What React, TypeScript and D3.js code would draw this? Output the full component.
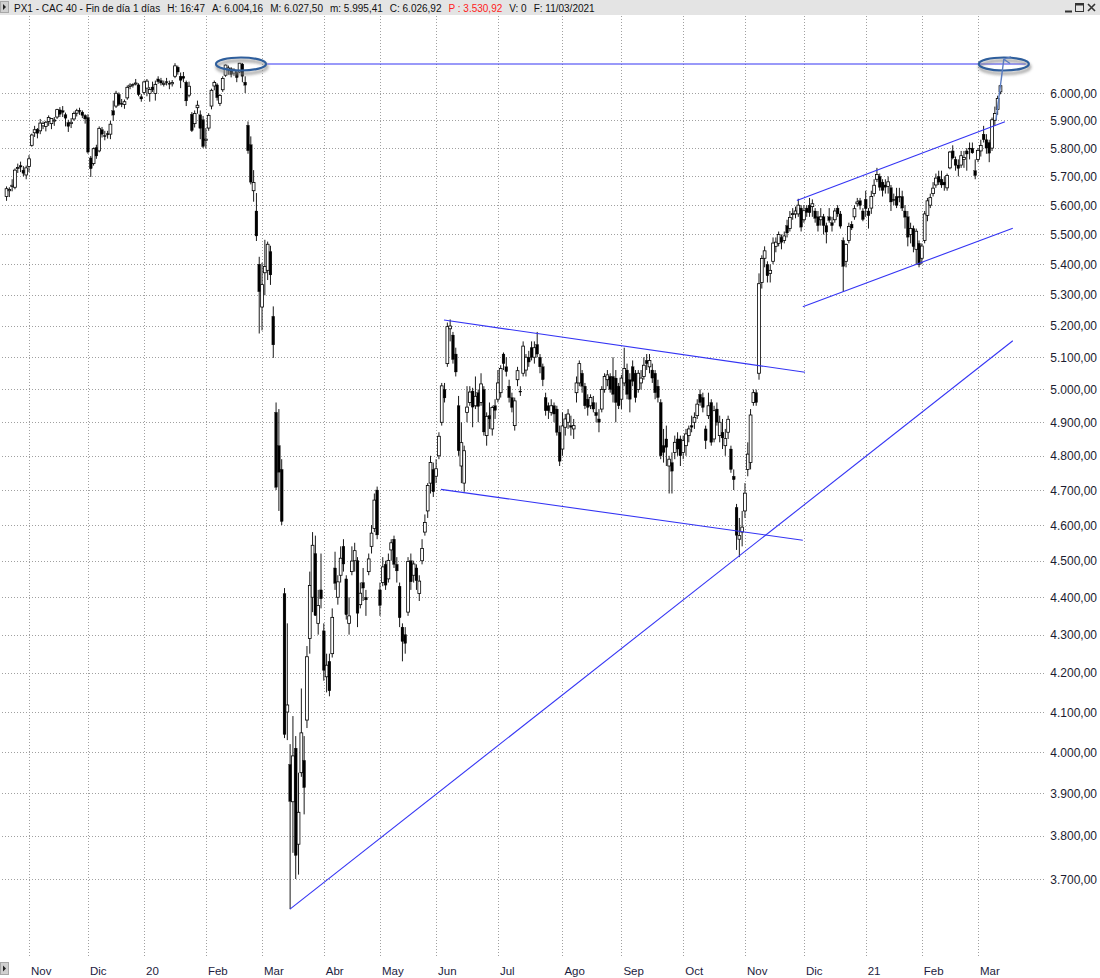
import React from "react";
import * as d3 from "d3";

type Bar = [number, number, number, number]; // open, high, low, close

const oct19: Bar[] = [
  [5630,5665,5615,5657],[5650,5662,5628,5654],[5665,5690,5648,5669],[5662,5728,5655,5722],
  [5728,5745,5712,5731],[5738,5752,5715,5733],[5722,5736,5700,5711],[5705,5738,5690,5730],
];
const nov19: Bar[] = [
  [5735,5775,5715,5762],[5810,5852,5805,5847],[5855,5880,5840,5866],[5868,5872,5835,5853],
  [5862,5905,5850,5890],[5880,5896,5868,5889],[5878,5898,5860,5893],[5896,5918,5880,5910],
  [5888,5908,5868,5907],[5898,5912,5880,5901],[5912,5942,5905,5939],[5938,5948,5912,5922],
  [5935,5952,5912,5929],[5920,5928,5878,5908],[5892,5902,5858,5878],[5888,5908,5872,5893],
  [5905,5932,5898,5925],[5926,5942,5914,5935],[5936,5946,5920,5933],[5930,5936,5908,5918],
  [5918,5922,5888,5905],
];
const dec19: Bar[] = [
  [5910,5922,5780,5786],[5765,5772,5698,5727],[5745,5802,5738,5798],[5802,5812,5762,5772],
  [5790,5878,5785,5871],[5866,5876,5838,5850],[5845,5862,5828,5844],[5852,5862,5834,5848],
  [5850,5898,5832,5886],[5935,5972,5898,5919],[5952,6008,5945,5999],[5995,6002,5952,5958],
  [5962,5978,5948,5960],[5958,5976,5942,5968],[5982,6028,5975,6021],[6024,6036,6014,6029],
  [6032,6036,6020,6031],[6036,6052,6028,6037],[6030,6036,5988,5994],[5986,5996,5968,5978],
];
const jan20: Bar[] = [
  [6002,6046,5994,6041],[6018,6052,5988,6044],[5998,6022,5968,6013],[6022,6042,6004,6012],
  [5998,6046,5972,6032],[6052,6062,6034,6042],[6046,6056,6028,6037],[6032,6046,6024,6036],
  [6042,6056,6028,6040],[6036,6046,6014,6033],[6034,6048,6024,6039],[6062,6111,6055,6101],
  [6096,6102,6068,6078],[6062,6076,6018,6047],[6062,6078,6040,6054],[6040,6046,5952,5971],
  [5992,6042,5984,6025],[5922,5930,5858,5863],[5888,5936,5874,5925],[5946,5972,5924,5955],
  [5920,5936,5832,5871],[5902,5916,5800,5806],
];
const feb20: Bar[] = [
  [5828,5872,5798,5832],[5872,5926,5862,5918],[5952,6016,5940,6010],[6026,6046,6010,6039],
  [6030,6036,5972,5983],[5962,5996,5952,5991],[6012,6062,6004,6054],[6066,6106,6060,6104],
  [6086,6102,6068,6093],[6090,6096,6058,6069],[6074,6092,6064,6085],[6076,6082,6040,6057],
  [6078,6112,6074,6111],[6108,6112,6040,6062],[6040,6062,6000,6029],[5882,5896,5780,5791],
  [5812,5842,5672,5680],[5650,5722,5612,5679],[5580,5642,5478,5495],[5400,5425,5175,5310],
];
const mar20: Bar[] = [
  [5260,5405,5185,5333],[5372,5482,5298,5393],[5380,5476,5348,5467],[5442,5462,5332,5365],
  [5230,5262,5098,5139],[4930,4960,4700,4708],[4830,4940,4640,4752],[4760,4790,4600,4610],
  [4410,4425,4035,4044],[4100,4330,4030,4118],[3970,4020,3632,3881],[3880,4090,3760,3991],
  [4010,4040,3700,3754],[3780,3950,3710,3855],[3950,4160,3940,4048],[3980,4040,3850,3914],
  [4080,4270,4060,4242],[4290,4470,4250,4432],[4400,4580,4360,4543],[4520,4570,4350,4351],
  [4330,4420,4300,4378],[4420,4520,4370,4396],
];
const apr20: Bar[] = [
  [4310,4330,4180,4207],[4190,4250,4150,4220],[4230,4250,4140,4154],[4250,4370,4240,4346],
  [4480,4525,4420,4438],[4400,4460,4380,4442],[4460,4540,4440,4507],[4540,4560,4470,4491],
  [4450,4460,4340,4353],[4330,4400,4300,4350],[4470,4540,4460,4499],[4500,4550,4470,4528],
  [4500,4510,4320,4357],[4380,4440,4370,4411],[4440,4480,4390,4425],[4400,4420,4350,4393],
  [4470,4520,4460,4505],[4540,4600,4520,4577],[4590,4690,4580,4671],[4700,4710,4560,4572],
];
const may20: Bar[] = [
  [4420,4440,4350,4378],[4440,4510,4430,4483],[4490,4500,4420,4433],[4450,4520,4440,4501],
  [4530,4560,4500,4550],[4560,4570,4480,4490],[4490,4510,4440,4472],[4430,4440,4320,4345],
  [4320,4330,4230,4282],[4300,4320,4250,4277],[4360,4510,4350,4498],[4500,4520,4420,4442],
  [4460,4500,4440,4491],[4480,4490,4420,4445],[4410,4460,4390,4444],[4500,4560,4490,4534],
  [4580,4630,4570,4607],[4640,4720,4620,4713],[4720,4800,4690,4780],[4760,4780,4680,4695],
];
const jun20: Bar[] = [
  [4740,4790,4720,4762],[4800,4870,4790,4858],[4900,5020,4890,5011],[5000,5020,4960,4974],
  [5080,5210,5070,5197],[5190,5220,5150,5199],[5170,5180,5080,5093],[5110,5130,5040,5054],
  [4950,4980,4800,4815],[4770,4900,4720,4839],[4720,4830,4695,4815],[4930,5010,4900,4946],
  [4960,5010,4950,4992],[4995,5005,4885,4946],[4950,5040,4940,4979],[4990,5000,4900,4948],
  [4960,5050,4950,5017],[5000,5010,4860,4871],[4860,4930,4830,4918],[4920,4960,4880,4910],
  [4880,4950,4860,4945],[4950,4970,4910,4936],
];
const jul20: Bar[] = [
  [4970,5060,4960,5020],[4990,5075,4975,5065],[5110,5115,5060,5080],[5070,5100,5040,5055],
  [5010,5030,4960,4975],[4975,4990,4930,4945],[4890,4975,4875,4965],[5030,5070,5010,5058],
  [4995,5010,4980,4992],[5050,5150,5040,5135],[5060,5110,5040,5100],[5100,5120,5070,5085],
  [5130,5150,5090,5100],[5100,5150,5080,5130],[5140,5180,5100,5110],[5100,5110,5050,5070],
  [5070,5080,5010,5030],[4975,4990,4920,4935],[4950,4960,4910,4935],[4930,4970,4920,4950],
  [4950,4960,4900,4925],[4940,4950,4860,4870],[4870,4890,4770,4784],
];
const aug20: Bar[] = [
  [4820,4930,4800,4889],[4885,4925,4860,4910],[4900,4940,4880,4925],[4890,4920,4860,4885],
  [4880,4910,4850,4890],[4990,5040,4960,5020],[5020,5090,5010,5080],[5050,5060,4990,5010],
  [5010,5020,4940,4950],[4970,4985,4920,4945],[4950,4985,4940,4975],[4960,4980,4930,4940],
  [4930,4960,4900,4920],[4910,4940,4870,4900],[4940,5010,4930,5000],[5000,5050,4990,5040],
  [5030,5060,5010,5045],[5040,5050,4990,5000],[5040,5100,4960,4985],[5035,5060,4900,4960],
  [5010,5020,4940,4950],
];
const sep20: Bar[] = [
  [4970,5045,4940,5035],[5020,5130,5010,5065],[5060,5080,4970,4985],[5030,5050,4930,4970],
  [5070,5090,5010,5025],[5050,5060,4960,4975],[5000,5060,4990,5050],[5020,5060,5000,5035],
  [5040,5100,5030,5075],[5090,5110,5060,5080],[5070,5110,5050,5090],[5060,5080,5020,5035],
  [5050,5060,4970,4990],[5010,5030,4960,4975],[4960,4970,4790,4800],[4830,4880,4780,4810],
  [4850,4890,4770,4825],[4770,4800,4690,4790],[4780,4810,4690,4755],[4810,4860,4790,4840],
  [4850,4870,4800,4820],[4850,4860,4770,4800],
];
const oct20: Bar[] = [
  [4810,4860,4790,4845],[4830,4880,4800,4865],[4860,4890,4840,4880],[4890,4920,4870,4885],
  [4900,4930,4880,4915],[4920,4970,4910,4955],[4985,5000,4950,4960],[4975,4990,4930,4945],
  [4880,4890,4820,4845],[4920,4990,4910,4950],[4960,4970,4830,4840],[4850,4950,4840,4935],
  [4940,4960,4890,4900],[4860,4920,4840,4900],[4870,4910,4820,4853],[4830,4880,4800,4851],
  [4870,4920,4850,4909],[4820,4830,4750,4760],[4740,4760,4700,4730],[4650,4660,4530,4571],
  [4560,4620,4510,4570],[4580,4640,4540,4594],
];
const nov20: Bar[] = [
  [4640,4720,4620,4691],[4760,4840,4740,4805],[4780,4940,4760,4922],[4960,5000,4950,4990],
  [4990,5000,4950,4960],[5050,5370,5030,5336],[5340,5430,5320,5419],[5420,5460,5390,5445],
  [5400,5410,5340,5362],[5370,5400,5340,5380],[5410,5490,5400,5471],[5460,5490,5440,5474],
  [5470,5510,5460,5500],[5490,5500,5450,5474],[5480,5510,5470,5495],[5530,5550,5490,5505],
  [5520,5580,5510,5558],[5570,5590,5550,5571],[5570,5595,5555,5580],[5570,5622,5560,5600],
  [5590,5600,5510,5525],
];
const dec20: Bar[] = [
  [5550,5600,5540,5581],[5590,5600,5560,5575],[5600,5625,5560,5574],[5595,5620,5560,5605],
  [5580,5590,5540,5555],[5560,5580,5510,5530],[5550,5590,5530,5560],[5560,5570,5500,5530],
  [5530,5540,5470,5508],[5560,5590,5540,5548],[5540,5560,5510,5530],[5550,5590,5540,5580],
  [5590,5600,5560,5570],[5570,5580,5520,5528],[5480,5490,5310,5393],[5410,5470,5390,5466],
  [5480,5540,5470,5527],[5535,5545,5515,5522],[5560,5600,5550,5588],[5605,5625,5595,5611],
  [5615,5625,5585,5599],[5580,5590,5545,5551],
];
const jan21: Bar[] = [
  [5620,5650,5560,5588],[5580,5590,5520,5564],[5590,5650,5570,5630],[5640,5690,5630,5669],
  [5690,5730,5680,5707],[5700,5710,5650,5662],[5680,5690,5630,5651],[5670,5690,5640,5662],
  [5665,5700,5640,5681],[5660,5670,5580,5611],[5620,5640,5600,5617],[5630,5660,5590,5599],
  [5630,5660,5610,5628],[5630,5650,5580,5590],[5580,5600,5520,5559],[5560,5580,5460,5491],
  [5500,5540,5470,5520],[5520,5530,5440,5459],[5450,5520,5400,5511],[5470,5480,5390,5399],
];
const feb21: Bar[] = [
  [5420,5470,5400,5461],[5480,5580,5470,5570],[5565,5625,5545,5615],[5600,5640,5590,5626],
  [5640,5680,5630,5659],[5670,5710,5660,5694],[5700,5720,5670,5680],[5690,5720,5660,5670],
  [5680,5700,5650,5670],[5660,5710,5650,5703],[5730,5790,5725,5786],[5790,5810,5760,5765],
  [5760,5770,5720,5739],[5740,5760,5700,5728],[5740,5790,5730,5773],[5760,5790,5730,5767],
  [5790,5800,5720,5779],[5800,5820,5760,5798],[5800,5820,5780,5783],[5720,5760,5690,5703],
];
const mar21: Bar[] = [
  [5760,5800,5750,5792],[5790,5830,5770,5809],[5850,5880,5820,5830],[5830,5850,5780,5800],
  [5820,5830,5750,5782],[5800,5910,5790,5902],[5900,5950,5880,5925],[5940,5990,5920,5980],
  [6004.16,6027.5,5995.41,6026.92],
];

const monthLabels = ["Nov","Dic","20","Feb","Mar","Abr","May","Jun","Jul","Ago","Sep","Oct","Nov","Dic","21","Feb","Mar"];
const monthBars = [nov19,dec19,jan20,feb20,mar20,apr20,may20,jun20,jul20,aug20,sep20,oct20,nov20,dec20,jan21,feb21,mar21];
const priceTicks = d3.range(3700, 6001, 100);

// Drawn studies: [bar index from, price from, bar index to, price to]; bar index 0 = 1 Nov 2019
const trendLines: [number, number, number, number][] = [
  [84.8, 6108, 355, 6108],
  [147.8, 5218, 276.4, 5053],
  [146.7, 4702, 275.6, 4557],
  [92.95, 3632, 350.4, 5152],
  [273.5, 5616, 347.6, 5895],
  [275.6, 5261, 350.4, 5521],
];
const ellipses: [number, number][] = [[75.5, 6108], [347.2, 6108]];
const arrowStudy: [number, number, number, number] = [344.4, 5901, 347.2, 6126];

const headerParts: [string, string][] = [
  ["PX1 - CAC 40 - Fin de día 1 días", "#111"],
  ["H: 16:47", "#111"],
  ["A: 6.004,16", "#111"],
  ["M: 6.027,50", "#111"],
  ["m: 5.995,41", "#111"],
  ["C: 6.026,92", "#111"],
  ["P : 3.530,92", "#ff2020"],
  ["V: 0", "#111"],
  ["F: 11/03/2021", "#111"],
];

const locale = d3.formatLocale({ decimal: ",", thousands: ".", grouping: [3], currency: ["", ""] });
const fmt = locale.format(",.2f");

export default function App() {
  const W = 1100, H = 978;
  const bars: Bar[] = [...oct19, ...monthBars.flat()];
  const offset = oct19.length;
  const x = d3.scaleLinear().domain([0, 338]).range([29, 978]);
  const y = d3.scaleLog().domain([3700, 6000]).range([879, 93]);
  const starts: number[] = [];
  let acc = 0;
  monthBars.forEach((m) => { starts.push(acc); acc += m.length; });
  const font = "'Liberation Sans', Arial, sans-serif";
  const lineColor = "#3434f4";
  const [ax1, ay1, ax2, ay2] = arrowStudy;

  return (
    <svg width={W} height={H} viewBox={`0 0 ${W} ${H}`} style={{ position: "absolute", left: 0, top: 0, background: "#fff" }} fontFamily={font}>
      <defs>
        <filter id="blur" x="-20%" y="-50%" width="140%" height="200%">
          <feGaussianBlur stdDeviation="1.6" />
        </filter>
        <marker id="arr" viewBox="0 0 10 10" refX="5" refY="1" markerWidth="6" markerHeight="6" orient="auto-start-reverse">
          <path d="M1,9 L5,1 L9,9" fill="none" stroke="#5a7cc0" strokeWidth="1.5" />
        </marker>
      </defs>
      <rect x={0} y={0} width={W} height={H} fill="#fff" />

      {/* horizontal grid */}
      {priceTicks.map((t) => (
        <line key={"h" + t} x1={2} x2={1046} y1={Math.round(y(t)) + 0.5} y2={Math.round(y(t)) + 0.5} stroke="#a0a0a0" strokeDasharray="1,2" strokeWidth={1} />
      ))}
      {/* vertical grid */}
      {starts.map((s, k) => (
        <line key={"v" + k} x1={Math.round(x(s)) + 0.5} x2={Math.round(x(s)) + 0.5} y1={16} y2={958} stroke="#a0a0a0" strokeDasharray="1,2" strokeWidth={1} />
      ))}

      {/* candles */}
      {bars.map((b, gi) => {
        const [o, h, l, c] = b;
        const cx = x(gi - offset);
        const up = c >= o;
        const top = y(Math.max(o, c));
        const bot = y(Math.min(o, c));
        return (
          <g key={gi}>
            <line x1={cx} x2={cx} y1={y(h)} y2={y(l)} stroke="#1a1a1a" strokeWidth={1} />
            <rect x={cx - 1.4} y={top} width={2.8} height={Math.max(bot - top, 1)} fill={up ? "#fff" : "#000"} stroke="#000" strokeWidth={up ? 0.8 : 0.3} />
          </g>
        );
      })}

      {/* trend lines */}
      {trendLines.map(([i1, p1, i2, p2], k) => (
        <line key={"t" + k} x1={x(i1)} y1={y(p1)} x2={x(i2)} y2={y(p2)} stroke={lineColor} strokeWidth={1.1} />
      ))}

      {/* ellipses with shadow */}
      {ellipses.map(([i, p], k) => (
        <g key={"e" + k}>
          <ellipse cx={x(i) + 1} cy={y(p) + 3} rx={25} ry={6.5} fill="none" stroke="#8a8a8a" strokeWidth={3} filter="url(#blur)" opacity={0.8} />
          <ellipse cx={x(i)} cy={y(p)} rx={25} ry={6.5} fill="none" stroke="#2e5e9c" strokeWidth={2.2} />
        </g>
      ))}
      <line x1={x(ax1)} y1={y(ay1)} x2={x(ax2)} y2={y(ay2)} stroke="#5a7cc0" strokeWidth={1.4} markerEnd="url(#arr)" />

      {/* price axis labels */}
      {priceTicks.map((t) => (
        <text key={"l" + t} x={1097} y={y(t) + 4.5} textAnchor="end" fontSize={12} fill="#1c1c30">{fmt(t)}</text>
      ))}

      {/* month labels */}
      {starts.map((s, k) => (
        <text key={"m" + k} x={x(s) + 2} y={975} fontSize={11.5} fill="#1c1c40">{monthLabels[k]}</text>
      ))}

      {/* header bar */}
      <rect x={0} y={0} width={W} height={15} fill="#e4e4e4" />
      <rect x={0.5} y={1.5} width={8} height={11} fill="#d0d0d0" stroke="#a8a8a8" />
      <path d="M3,4 L6,7 L3,10 Z" fill="#222" />
      <text x={14} y={11.5} fontSize={10}>
        {headerParts.map(([t, col], k) => (
          <tspan key={"hd" + k} dx={k === 0 ? 0 : 7} fill={col}>{t}</tspan>
        ))}
      </text>
      {/* window buttons */}
      <g stroke="#333" fill="none">
        <line x1={1065} x2={1072} y1={11.5} y2={11.5} strokeWidth={2} />
        <rect x={1075.5} y={3.5} width={8} height={8} strokeWidth={1} />
        <line x1={1076} x2={1083} y1={4.5} y2={4.5} strokeWidth={2} />
        <path d="M1088,4 L1095,11 M1095,4 L1088,11" strokeWidth={1.6} />
      </g>

      {/* bottom-left icon */}
      <rect x={0.5} y={962.5} width={8} height={12} fill="#d0d0d0" stroke="#a8a8a8" />
      <path d="M3,965.5 L6,968.5 L3,971.5 Z" fill="#222" />
    </svg>
  );
}
